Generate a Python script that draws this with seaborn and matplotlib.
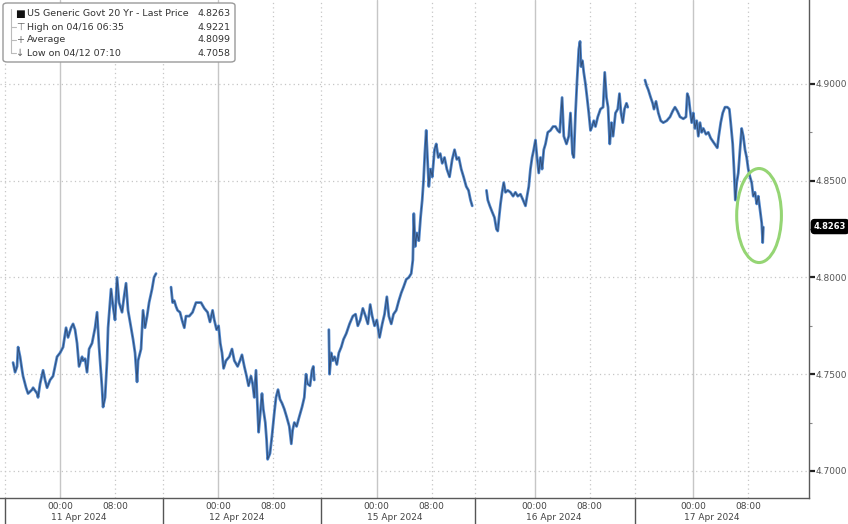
import pandas as pd
import matplotlib
matplotlib.use('Agg')
import matplotlib.pyplot as plt
import matplotlib.transforms as mtrans
from matplotlib.patches import Ellipse, FancyBboxPatch
import seaborn as sns

# sesiones (cada una se dibuja por separado, sin unir los huecos)
days = ['11 Apr 2024', '12 Apr 2024', '15 Apr 2024', '16 Apr 2024', '17 Apr 2024']

# horas respecto a la medianoche de cada sesion y rendimiento
apr11_hours = [-6.83, -6.54, -6.25, -6.10, -5.81, -5.52, -5.38, -4.94, -4.65, -4.07,
               -3.92, -3.34, -3.20, -2.91, -2.47, -2.18, -1.89, -1.45, -1.02, -0.73,
               -0.44, 0.00, 0.44, 0.87, 1.16, 1.60, 1.89, 2.18, 2.47, 2.76,
               3.20, 3.34, 3.63, 3.92, 4.22, 4.65, 5.09, 5.38, 5.67, 6.10,
               6.25, 6.54, 6.83, 6.98, 7.41, 7.70, 7.99, 8.28, 8.58, 9.01,
               9.30, 9.59, 9.88, 10.32, 10.61, 10.90, 11.19, 11.34, 11.77, 12.06,
               12.35, 12.65, 12.94, 13.37, 13.66, 13.95]
apr11_vals = [4.756, 4.751, 4.754, 4.764, 4.759, 4.752, 4.749, 4.743, 4.740, 4.742,
              4.743, 4.740, 4.738, 4.745, 4.752, 4.747, 4.743, 4.747, 4.749, 4.754,
              4.759, 4.761, 4.764, 4.774, 4.769, 4.774, 4.776, 4.773, 4.766, 4.754,
              4.759, 4.757, 4.758, 4.751, 4.763, 4.766, 4.774, 4.782, 4.764, 4.743,
              4.733, 4.738, 4.757, 4.774, 4.794, 4.785, 4.778, 4.800, 4.787, 4.782,
              4.790, 4.797, 4.783, 4.774, 4.768, 4.761, 4.746, 4.757, 4.763, 4.783,
              4.774, 4.780, 4.787, 4.794, 4.800, 4.802]

apr12_hours = [-6.87, -6.64, -6.40, -6.15, -5.92, -5.57, -5.28, -4.94, -4.70, -4.22,
               -3.74, -3.24, -2.86, -2.51, -2.03, -1.56, -1.21, -0.83, -0.58, -0.25,
               0.04, 0.29, 0.54, 0.77, 1.12, 1.60, 1.99, 2.33, 2.81, 3.15,
               3.44, 3.78, 4.11, 4.40, 4.75, 4.99, 5.23, 5.48, 5.71, 5.86,
               6.06, 6.35, 6.54, 6.83, 7.02, 7.17, 7.51, 7.80, 8.14, 8.39,
               8.68, 8.97, 9.26, 9.59, 9.93, 10.32, 10.61, 10.80, 11.05, 11.38,
               11.77, 12.17, 12.50, 12.75, 12.98, 13.33, 13.62, 13.81, 13.95]
apr12_vals = [4.795, 4.787, 4.788, 4.785, 4.783, 4.782, 4.778, 4.774, 4.780, 4.780,
              4.782, 4.787, 4.787, 4.787, 4.784, 4.782, 4.777, 4.783, 4.778, 4.773,
              4.775, 4.766, 4.761, 4.753, 4.757, 4.759, 4.763, 4.757, 4.754, 4.757,
              4.760, 4.754, 4.749, 4.744, 4.749, 4.745, 4.738, 4.752, 4.732, 4.720,
              4.728, 4.740, 4.732, 4.725, 4.716, 4.706, 4.709, 4.718, 4.730, 4.738,
              4.742, 4.737, 4.735, 4.732, 4.728, 4.723, 4.714, 4.721, 4.725, 4.723,
              4.728, 4.733, 4.738, 4.750, 4.745, 4.744, 4.752, 4.754, 4.747]

apr15_hours = [-6.93, -6.83, -6.58, -6.35, -6.10, -5.77, -5.48, -5.13, -4.80, -4.40,
               -3.92, -3.44, -3.05, -2.72, -2.37, -1.99, -1.60, -1.26, -0.92, -0.63,
               -0.29, 0.04, 0.44, 0.83, 1.16, 1.50, 1.79, 2.14, 2.47, 2.86,
               3.24, 3.59, 3.92, 4.32, 4.69, 5.04, 5.28, 5.42, 5.62, 5.86,
               6.15, 6.40, 6.64, 6.83, 7.02, 7.22, 7.41, 7.60, 7.85, 8.10,
               8.43, 8.68, 8.97, 9.26, 9.55, 9.88, 10.22, 10.61, 11.00, 11.34,
               11.67, 11.96, 12.31, 12.65, 13.04, 13.37, 13.66, 13.91]
apr15_vals = [4.773, 4.750, 4.761, 4.757, 4.759, 4.755, 4.761, 4.764, 4.768, 4.771,
              4.776, 4.780, 4.781, 4.775, 4.778, 4.784, 4.780, 4.776, 4.786, 4.780,
              4.775, 4.778, 4.769, 4.776, 4.781, 4.790, 4.780, 4.776, 4.781, 4.783,
              4.788, 4.792, 4.795, 4.799, 4.800, 4.802, 4.809, 4.833, 4.816, 4.823,
              4.819, 4.831, 4.840, 4.850, 4.864, 4.876, 4.861, 4.847, 4.856, 4.852,
              4.866, 4.869, 4.862, 4.864, 4.859, 4.862, 4.856, 4.852, 4.861, 4.866,
              4.861, 4.862, 4.856, 4.852, 4.847, 4.845, 4.840, 4.837]

apr16_hours = [-7.02, -6.83, -6.54, -6.21, -5.86, -5.57, -5.38, -5.19, -4.98, -4.75,
               -4.51, -4.26, -3.92, -3.53, -3.15, -2.81, -2.47, -2.08, -1.70, -1.35,
               -1.12, -0.87, -0.63, -0.39, -0.15, 0.10, 0.33, 0.58, 0.83, 1.06,
               1.31, 1.56, 1.89, 2.28, 2.66, 3.01, 3.34, 3.63, 3.97, 4.22,
               4.61, 4.94, 5.19, 5.48, 5.67, 5.92, 6.15, 6.40, 6.58, 6.73,
               6.93, 7.12, 7.37, 7.60, 7.85, 8.10, 8.33, 8.58, 8.82, 9.16,
               9.55, 9.93, 10.17, 10.42, 10.65, 10.90, 11.15, 11.38, 11.73, 12.06,
               12.31, 12.54, 12.79, 13.04, 13.33, 13.52]
apr16_vals = [4.845, 4.840, 4.837, 4.834, 4.831, 4.825, 4.824, 4.831, 4.838, 4.844,
              4.849, 4.844, 4.845, 4.844, 4.842, 4.844, 4.842, 4.843, 4.840, 4.837,
              4.842, 4.847, 4.856, 4.862, 4.866, 4.871, 4.862, 4.854, 4.862, 4.856,
              4.866, 4.869, 4.875, 4.876, 4.878, 4.878, 4.876, 4.875, 4.893, 4.873,
              4.869, 4.873, 4.885, 4.864, 4.862, 4.885, 4.902, 4.918, 4.922, 4.909,
              4.912, 4.906, 4.900, 4.893, 4.885, 4.876, 4.878, 4.881, 4.878, 4.883,
              4.887, 4.888, 4.906, 4.893, 4.888, 4.869, 4.880, 4.873, 4.885, 4.887,
              4.895, 4.885, 4.880, 4.887, 4.890, 4.888]

apr17_hours = [-6.98, -6.73, -6.50, -6.15, -5.86, -5.67, -5.38, -5.04, -4.69, -4.32,
               -3.82, -3.34, -2.95, -2.62, -2.28, -1.89, -1.41, -1.02, -0.83, -0.63,
               -0.44, -0.19, 0.04, 0.29, 0.54, 0.77, 1.02, 1.26, 1.50, 1.89,
               2.22, 2.57, 2.95, 3.34, 3.53, 3.74, 4.03, 4.32, 4.65, 4.99,
               5.28, 5.48, 5.77, 5.96, 6.15, 6.35, 6.58, 6.83, 7.07, 7.31,
               7.56, 7.80, 8.03, 8.28, 8.53, 8.76, 9.01, 9.26, 9.49, 9.74,
               9.99, 10.13, 10.22]
apr17_vals = [4.902, 4.899, 4.897, 4.893, 4.890, 4.887, 4.891, 4.885, 4.881, 4.880,
              4.881, 4.883, 4.886, 4.888, 4.886, 4.883, 4.882, 4.883, 4.895, 4.893,
              4.887, 4.880, 4.885, 4.877, 4.881, 4.873, 4.880, 4.875, 4.877, 4.874,
              4.875, 4.872, 4.870, 4.868, 4.867, 4.873, 4.880, 4.885, 4.888, 4.888,
              4.887, 4.880, 4.869, 4.856, 4.840, 4.849, 4.854, 4.866, 4.877, 4.873,
              4.866, 4.862, 4.856, 4.852, 4.849, 4.842, 4.844, 4.838, 4.842, 4.835,
              4.828, 4.818, 4.826]

legend_rows = ['US Generic Govt 20 Yr - Last Price', 'High on 04/16 06:35', 'Average', 'Low on 04/12 07:10']
legend_vals = ['4.8263', '4.9221', '4.8099', '4.7058']
last_price = 4.8263

y_major = [4.70, 4.75, 4.80, 4.85, 4.90]
y_minor = [4.725, 4.775, 4.825, 4.875]

# eje x comprimido: cada sesion ocupa ~23 h, la medianoche cae 8 h despues del inicio
SESSION = 23
MID = 8
bounds = [0, 23, 46, 68.3, 91.5]

hours_all = [apr11_hours, apr12_hours, apr15_hours, apr16_hours, apr17_hours]
vals_all = [apr11_vals, apr12_vals, apr15_vals, apr16_vals, apr17_vals]
frames = []
for i, (h, v) in enumerate(zip(hours_all, vals_all)):
    frames.append(pd.DataFrame({'x': [i * SESSION + MID + t for t in h], 'yld': v, 'day': days[i]}))
df = pd.concat(frames, ignore_index=True)

sns.set_style('white')
plt.rcParams['font.family'] = ['DejaVu Sans']

fig = plt.figure(figsize=(8.48, 5.24), dpi=100)
ax = fig.add_axes([0.0, 26 / 524, 809 / 848, 498 / 524])

# rejilla
grid_c = '#c6c6c6'
for i in range(len(days)):
    ax.axvline(i * SESSION + MID, color=grid_c, lw=1.0, zorder=0)
    ax.axvline(i * SESSION + MID + 8, color=grid_c, lw=0.9, ls=(0, (1, 2.5)), zorder=0)
for b in bounds:
    ax.axvline(b, color=grid_c, lw=0.9, ls=(0, (1, 2.5)), zorder=0)
for y in y_major:
    ax.axhline(y, color=grid_c, lw=0.9, ls=(0, (1, 2.5)), zorder=0)

sns.lineplot(data=df, x='x', y='yld', units='day', estimator=None, sort=False,
             color='#4f86cc', lw=2.0, ax=ax, legend=False)
sns.lineplot(data=df, x='x', y='yld', units='day', estimator=None, sort=False,
             color='#1e2a40', lw=0.7, alpha=0.6, ax=ax, legend=False)

ax.set_xlim(-0.73, 116.86)
ax.set_ylim(4.686, 4.9434)
ax.set_xlabel('')
ax.set_ylabel('')

# ejes
for s in ['left', 'top']:
    ax.spines[s].set_visible(False)
for s in ['bottom', 'right']:
    ax.spines[s].set_color('#5a5a5a')
    ax.spines[s].set_linewidth(1.0)

ax.set_xticks([i * SESSION + k for i in range(len(days)) for k in range(0, 21, 4)])
ax.tick_params(axis='x', direction='in', length=3, color='#777', labelbottom=False)

ax.yaxis.tick_right()
ax.set_yticks(y_major)
ax.set_yticks(y_minor, minor=True)
ax.set_yticklabels([f'{y:.4f}' for y in y_major])
ax.tick_params(axis='y', which='major', direction='out', length=4, width=1.6,
               color='#222', labelsize=6.5, labelcolor='#555', pad=1)
ax.tick_params(axis='y', which='minor', direction='out', length=2, width=0.8, color='#888')

# etiquetas de horas y dias
tr = mtrans.blended_transform_factory(ax.transData, ax.transAxes)
for i, d in enumerate(days):
    m = i * SESSION + MID
    ax.text(m, -0.017, '00:00', transform=tr, ha='center', va='center', fontsize=6.5, color='#444')
    ax.text(m + 8, -0.017, '08:00', transform=tr, ha='center', va='center', fontsize=6.5, color='#444')
    ax.text(m + 2.7, -0.039, d, transform=tr, ha='center', va='center', fontsize=6.5, color='#444')
for b in bounds:
    ax.plot([b, b], [0, -0.06], transform=tr, color='#555', lw=1, clip_on=False)

# etiqueta del ultimo precio
ytr = mtrans.blended_transform_factory(ax.transAxes, ax.transData)
ax.text(1.006, last_price, f'{last_price:.4f}', transform=ytr, ha='left', va='center',
        fontsize=6, color='white', fontweight='bold',
        bbox=dict(boxstyle='round,pad=0.3,rounding_size=0.4', fc='black', ec='black'))

# circulo verde
ax.add_patch(Ellipse((4 * SESSION + MID + 9.6, 4.832), width=6.5, height=0.0486,
                     fill=False, ec='#95d574', lw=2.2, zorder=5))

# leyenda tipo Bloomberg
fig.add_artist(FancyBboxPatch((3 / 848, 1 - 62 / 524), 232 / 848, 59 / 524,
                              boxstyle='round,pad=0,rounding_size=0.005',
                              transform=fig.transFigure, fc='white', ec='#9a9a9a', lw=1, zorder=10))
row_y = [14, 27, 40, 53]
icons = ['■', '⊤', '+', '↓']
fig.add_artist(plt.Line2D([11 / 848, 11 / 848], [1 - 9 / 524, 1 - 53 / 524],
                          transform=fig.transFigure, color='#bbb', lw=0.8, zorder=11))
for k, (lab, val) in enumerate(zip(legend_rows, legend_vals)):
    yy = 1 - row_y[k] / 524
    if k > 0:
        fig.add_artist(plt.Line2D([11 / 848, 16 / 848], [yy, yy], transform=fig.transFigure,
                                  color='#bbb', lw=0.8, zorder=11))
    fig.text(20 / 848, yy, icons[k], ha='center', va='center', fontsize=7.5 if k == 0 else 7,
             color='#111' if k == 0 else '#666', zorder=12)
    fig.text(27 / 848, yy, lab, ha='left', va='center', fontsize=6.8, color='#333', zorder=12)
    fig.text(231 / 848, yy, val, ha='right', va='center', fontsize=6.8, color='#333', zorder=12)

fig.savefig('out.png', dpi=100)
plt.close(fig)
